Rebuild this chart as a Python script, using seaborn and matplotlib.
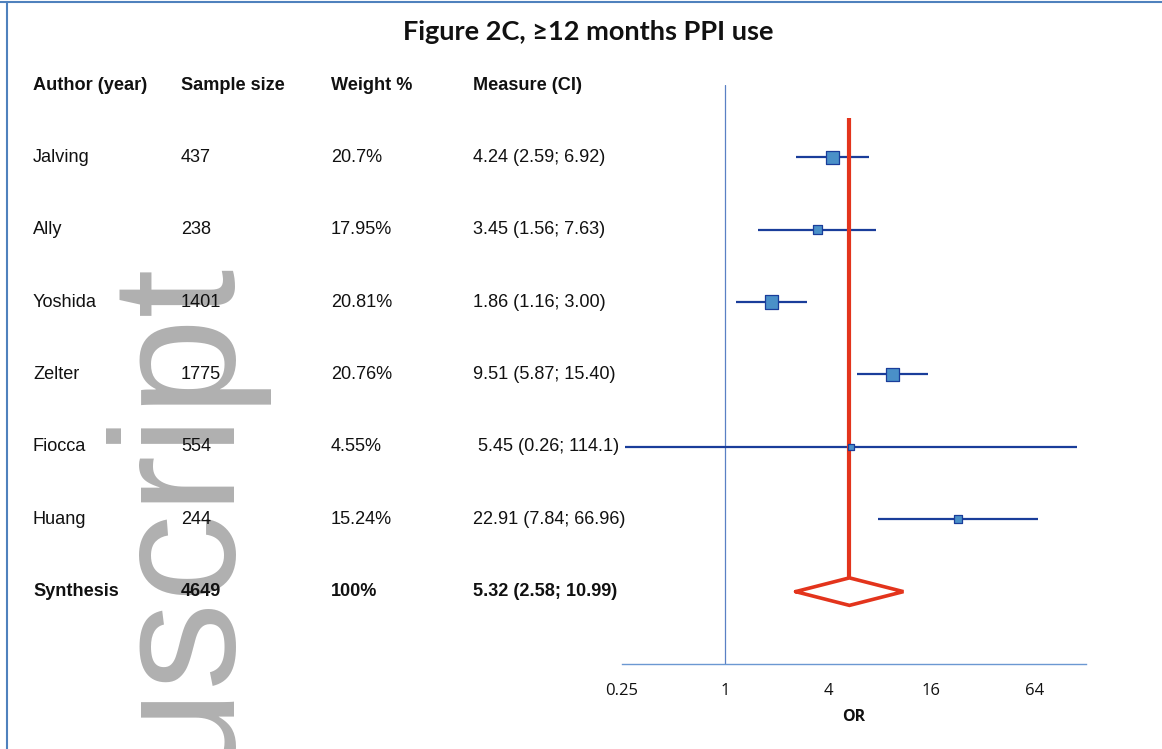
import matplotlib
matplotlib.use("Agg")
import matplotlib.pyplot as plt
import matplotlib.transforms as mtransforms
from matplotlib.lines import Line2D
import numpy as np
import pandas as pd
import seaborn as sns

# ---- study data ----
authors = ["Jalving", "Ally", "Yoshida", "Zelter", "Fiocca", "Huang"]
sample_sizes = ["437", "238", "1401", "1775", "554", "244"]
weights = ["20.7%", "17.95%", "20.81%", "20.76%", "4.55%", "15.24%"]
odds_ratio = [4.24, 3.45, 1.86, 9.51, 5.45, 22.91]
ci_low = [2.59, 1.56, 1.16, 5.87, 0.26, 7.84]
ci_high = [6.92, 7.63, 3.00, 15.40, 114.1, 66.96]
measure_labels = ["4.24 (2.59; 6.92)", "3.45 (1.56; 7.63)", "1.86 (1.16; 3.00)",
                  "9.51 (5.87; 15.40)", " 5.45 (0.26; 114.1)", "22.91 (7.84; 66.96)"]

# ---- pooled estimate ----
pooled_label = ["Synthesis", "4649", "100%", "5.32 (2.58; 10.99)"]
pooled_or = 5.32
pooled_low = 2.58
pooled_high = 10.99

headers = ["Author (year)", "Sample size", "Weight %", "Measure (CI)"]
x_ticks = [0.25, 1, 4, 16, 64]
x_tick_labels = ["0.25", "1", "4", "16", "64"]

sns.set_theme(style="white")
plt.rcParams["font.family"] = ["Liberation Sans", "DejaVu Sans"]

df = pd.DataFrame({"author": authors, "or": odds_ratio,
                   "lo": ci_low, "hi": ci_high})
df["row"] = np.arange(len(df))
# box area follows the inverse-variance weight derived from the CI width
df["iv"] = 1.0 / np.log(df["hi"] / df["lo"]) ** 2
pooled_row = len(df)

W, H = 1162, 749
fig = plt.figure(figsize=(W / 100, H / 100), dpi=100)
ax = fig.add_axes([622 / W, 1 - 664 / H, (1086 - 622) / W, (664 - 85) / H])

ax.set_xscale("log", base=2)
ax.set_xlim(0.25, 128)
ax.set_ylim(pooled_row + 1.0, -1.0)

blue_dark = "#1a3d9a"
red = "#e3341c"

# reference line at OR = 1
ax.axvline(1, color="#5a80c4", lw=0.9, zorder=1)

# confidence intervals and study boxes
ax.hlines(df["row"], df["lo"], df["hi"], color=blue_dark, lw=1.6, zorder=2)
sns.scatterplot(data=df, x="or", y="row", size="iv", sizes=(17, 92),
                marker="s", color="#4a90c8", edgecolor=blue_dark,
                linewidth=0.9, legend=False, ax=ax, zorder=4)

# pooled line and diamond
half_h = 0.19
ax.plot([pooled_or, pooled_or], [-0.54, pooled_row - half_h],
        color=red, lw=3.0, zorder=3, solid_capstyle="butt")
ax.plot([pooled_low, pooled_or, pooled_high, pooled_or, pooled_low],
        [pooled_row, pooled_row - half_h, pooled_row, pooled_row + half_h, pooled_row],
        color=red, lw=2.6, zorder=3, solid_joinstyle="miter")

# axis styling
for s in ["top", "right", "left"]:
    ax.spines[s].set_visible(False)
ax.spines["bottom"].set_color("#6b98d2")
ax.spines["bottom"].set_linewidth(1.0)
ax.set_xticks(x_ticks)
ax.set_xticklabels(x_tick_labels)
ax.minorticks_off()
ax.set_yticks([])
ax.tick_params(axis="x", direction="out", length=5, width=1.0, color="#6b98d2",
               pad=9, labelsize=12, labelcolor="#111111")
for lab in ax.get_xticklabels():
    lab.set_family(["Open Sans", "DejaVu Sans"])
ax.set_xlabel("OR", fontsize=11.5, fontweight="bold", family=["Open Sans", "DejaVu Sans"],
              labelpad=7, color="#111111")
ax.set_ylabel("")
ax.grid(False)

# table columns
col_x = [33 / W, 181 / W, 331 / W, 473 / W]
trans = mtransforms.blended_transform_factory(fig.transFigure, ax.transData)
fs = 13.1
for cx, h in zip(col_x, headers):
    ax.text(cx, -0.99, h, transform=trans, ha="left", va="center",
            fontsize=fs, fontweight="bold", color="#111111", clip_on=False)
for i in range(len(authors)):
    vals = [authors[i], sample_sizes[i], weights[i], measure_labels[i]]
    for cx, v in zip(col_x, vals):
        ax.text(cx, i, v, transform=trans, ha="left", va="center",
                fontsize=fs, color="#111111", clip_on=False)
for cx, v in zip(col_x, pooled_label):
    ax.text(cx, pooled_row, v, transform=trans, ha="left", va="center",
            fontsize=fs, fontweight="bold", color="#111111", clip_on=False)

# title
fig.text(588 / W, 1 - 32 / H, "Figure 2C, \u226512 months PPI use", ha="center",
         va="center", fontsize=19.5, fontweight="bold",
         family=["Lato", "DejaVu Sans"], color="#111111")

# watermark
fig.text(223 / W, 1 - 257 / H, "uscript", rotation=90, rotation_mode="anchor",
         ha="right", va="baseline", fontsize=127, color="#b0b0b0",
         family=["Liberation Sans", "DejaVu Sans"], zorder=-5)

# frame lines
fig.add_artist(Line2D([0, 1], [1 - 2 / H, 1 - 2 / H], transform=fig.transFigure,
                      color="#4f81bd", lw=1.5))
fig.add_artist(Line2D([7 / W, 7 / W], [0, 1 - 2 / H], transform=fig.transFigure,
                      color="#4f81bd", lw=1.5))

fig.savefig("out.png", dpi=100, facecolor="white")
